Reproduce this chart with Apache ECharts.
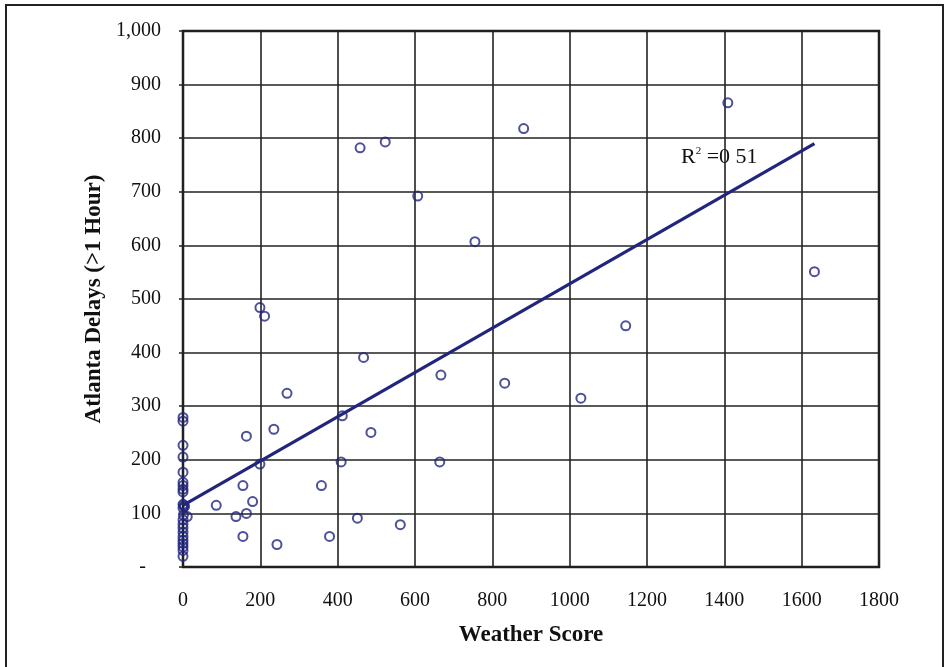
<!DOCTYPE html>
<html>
<head>
<meta charset="utf-8">
<script src="https://cdn.jsdelivr.net/npm/echarts@6/dist/echarts.min.js"></script>
<style>
  html, body { margin: 0; padding: 0; background: #fff; }
  #chart { width: 945px; height: 667px; }
</style>
</head>
<body>
<div id="chart"></div>
<script>
// weather score vs. Atlanta delays (>1 hour)
const weatherScore = [
  0, 0, 0, 0, 0, 0, 0, 0, 0, 0, 2, 4, 0, 1, 0, 0, 0, 0, 0, 0, 0, 0, 0, 0, 11,
  86, 137, 155, 155, 164, 164, 180, 199, 199, 211, 235, 243, 269, 358, 379,
  409, 412, 451, 458, 467, 486, 523, 562, 607, 664, 667, 755, 832, 881,
  1029, 1145, 1409, 1633
];
const delays = [
  279, 272, 227, 205, 177, 158, 152, 145, 140, 117, 115, 113, 110, 97, 88, 80, 73, 65, 57, 50, 44, 38, 31, 20, 94,
  115, 94, 152, 57, 100, 244, 122, 192, 484, 468, 257, 42, 324, 152, 57,
  196, 282, 91, 782, 391, 251, 793, 79, 692, 196, 358, 607, 343, 818,
  315, 450, 866, 551
];
// linear trend line end points
const trendX = [0, 1633];
const trendY = [115, 790];
const rSquared = '0 51';

const xTicks = { min: 0, max: 1800, step: 200 };
const yTicks = { min: 0, max: 1000, step: 100 };

const navy = '#21267C';
const font = 'Liberation Serif';

let points = weatherScore.map((x, i) => [x, delays[i]]);
let trend = trendX.map((x, i) => [x, trendY[i]]);

let chart = echarts.init(document.getElementById('chart'));
let option = {
  animation: false,
  backgroundColor: '#fff',
  grid: {
    left: 183, right: 66, top: 31, bottom: 100,
    show: true,
    borderColor: '#1a1a1a',
    borderWidth: 2.5
  },
  xAxis: {
    type: 'value',
    min: xTicks.min, max: xTicks.max, interval: xTicks.step,
    name: 'Weather Score',
    nameLocation: 'middle',
    nameGap: 57,
    nameTextStyle: { fontFamily: font, fontWeight: 'bold', fontSize: 23, color: '#111' },
    axisLine: { show: false },
    axisTick: { show: false },
    axisLabel: { fontFamily: font, fontSize: 20, color: '#111', margin: 24, formatter: v => String(v) },
    splitLine: { lineStyle: { color: '#222', width: 1.6 } }
  },
  yAxis: {
    type: 'value',
    min: yTicks.min, max: yTicks.max, interval: yTicks.step,
    name: 'Atlanta Delays (>1 Hour)',
    nameLocation: 'middle',
    nameGap: 70,
    nameRotate: 90,
    nameTextStyle: { fontFamily: font, fontWeight: 'bold', fontSize: 23, color: '#111' },
    axisLine: { show: false },
    axisTick: { show: true, length: 4, lineStyle: { color: '#222', width: 1.5 } },
    axisLabel: {
      fontFamily: font, fontSize: 20, color: '#111', margin: 22,
      formatter: v => v === 0 ? '-   ' : v.toLocaleString('en-US')
    },
    splitLine: { lineStyle: { color: '#222', width: 1.6 } }
  },
  series: [
    {
      name: 'delays',
      type: 'scatter',
      data: points,
      symbol: 'circle',
      symbolSize: 9,
      itemStyle: { color: 'rgba(255,255,255,0)', borderColor: navy, borderWidth: 2 },
      z: 3
    },
    {
      name: 'trend',
      type: 'line',
      data: trend,
      showSymbol: false,
      lineStyle: { color: navy, width: 3.2 },
      z: 4
    }
  ],
  graphic: [
    {
      type: 'rect',
      shape: { x: 6, y: 5, width: 937, height: 700 },
      style: { fill: 'none', stroke: '#222', lineWidth: 2 },
      silent: true
    },
    {
      type: 'text',
      left: 681, top: 146,
      style: {
        text: '{r|R}{s|2}{r| =' + rSquared + '}',
        rich: {
          r: { fontFamily: font, fontSize: 22, fill: '#111' },
          s: { fontFamily: font, fontSize: 11, fill: '#111', verticalAlign: 'top', padding: [0, 0, 12, 0] }
        }
      },
      z: 10
    }
  ]
};
option && chart.setOption(option);
</script>
</body>
</html>
